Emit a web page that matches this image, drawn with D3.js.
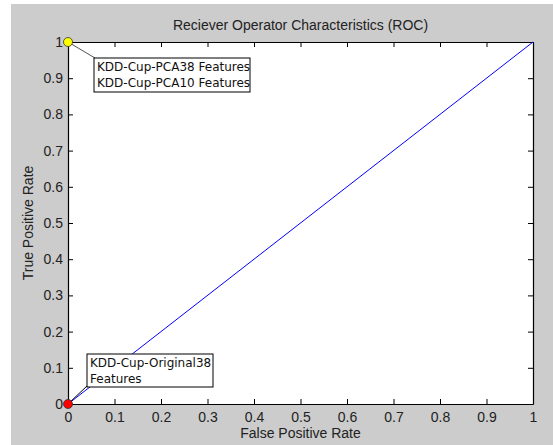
<!DOCTYPE html>
<html>
<head>
<meta charset="utf-8">
<script src="https://cdn.jsdelivr.net/npm/d3@7"></script>
<style>
body { margin: 0; background: #fff; }
text { font-family: Arial, "Liberation Sans", sans-serif; }
</style>
</head>
<body>
<script>
// ROC curve points (false positive rate, true positive rate)
var rocFpr = [0, 1];
var rocTpr = [0, 1];

// labelled operating points
var pointNames = ['KDD-Cup-PCA38 Features\nKDD-Cup-PCA10 Features', 'KDD-Cup-Original38\nFeatures'];
var pointFpr = [0, 0];
var pointTpr = [1, 0];
var pointColors = ['#ffff00', '#ff0000'];

var tickValues = [0, 0.1, 0.2, 0.3, 0.4, 0.5, 0.6, 0.7, 0.8, 0.9, 1];

var width = 553, height = 445;
var margin = {left: 68, top: 42, right: 20, bottom: 41};

var svg = d3.select('body')
	.append('svg')
	.attr('width', width)
	.attr('height', height);

// figure background
svg.append('rect')
	.attr('x', 11)
	.attr('y', 4)
	.attr('width', width - 11)
	.attr('height', height - 4)
	.attr('fill', '#cccccc');

var x = d3.scaleLinear()
	.domain([0, 1])
	.range([margin.left, width - margin.right]);

var y = d3.scaleLinear()
	.domain([0, 1])
	.range([height - margin.bottom, margin.top]);

svg.append('rect')
	.attr('x', x(0))
	.attr('y', y(1))
	.attr('width', x(1) - x(0))
	.attr('height', y(0) - y(1))
	.attr('fill', '#fff');

var xAxis = svg.append('g')
	.attr('transform', 'translate(0,' + y(0) + ')')
	.call(d3.axisBottom(x).tickValues(tickValues).tickSizeInner(-5).tickSizeOuter(0).tickPadding(8).tickFormat(d3.format('')));
var xTop = svg.append('g')
	.attr('transform', 'translate(0,' + y(1) + ')')
	.call(d3.axisTop(x).tickValues(tickValues).tickSizeInner(-5).tickSizeOuter(0).tickFormat(''));
var yAxis = svg.append('g')
	.attr('transform', 'translate(' + x(0) + ',0)')
	.call(d3.axisLeft(y).tickValues(tickValues).tickSizeInner(-5).tickSizeOuter(0).tickPadding(5).tickFormat(d3.format('')));
var yRight = svg.append('g')
	.attr('transform', 'translate(' + x(1) + ',0)')
	.call(d3.axisRight(y).tickValues(tickValues).tickSizeInner(-5).tickSizeOuter(0).tickFormat(''));

[xAxis, xTop, yAxis, yRight].forEach(function(g) {
	g.selectAll('.domain').attr('stroke', '#000').attr('stroke-width', 1.2);
	g.selectAll('.tick line').attr('stroke', '#000');
	g.selectAll('.tick text').attr('font-size', 14).attr('fill', '#222');
});
xAxis.selectAll('.tick text').attr('dy', '0.71em');

// ROC line
var line = d3.line()
	.x(function(d) { return x(d[0]); })
	.y(function(d) { return y(d[1]); });

svg.append('path')
	.datum(d3.zip(rocFpr, rocTpr))
	.attr('d', line)
	.attr('fill', 'none')
	.attr('stroke', '#0000ff')
	.attr('stroke-width', 1);

// annotation boxes
var boxes = [
	{dx: 26, dy: 16, w: 156, h: 34, lead: '#555'},
	{dx: 19, dy: -50, w: 126, h: 33, lead: '#000'}
];

pointNames.forEach(function(name, i) {
	var px = x(pointFpr[i]), py = y(pointTpr[i]);
	var b = boxes[i];
	var bx = px + b.dx, by = py + b.dy;
	var cx = bx + 1;
	var cy = i === 0 ? by : by + b.h - 2;
	svg.append('line')
		.attr('x1', px).attr('y1', py)
		.attr('x2', cx).attr('y2', cy)
		.attr('stroke', b.lead)
		.attr('stroke-width', 1);
	svg.append('rect')
		.attr('x', bx).attr('y', by)
		.attr('width', b.w).attr('height', b.h)
		.attr('fill', '#fff')
		.attr('stroke', '#000')
		.attr('stroke-width', 1);
	svg.append('text')
		.attr('x', bx + 3)
		.attr('y', by + 13)
		.attr('font-size', 12)
		.style('font-family', '"DejaVu Sans", sans-serif')
		.attr('fill', '#111')
		.selectAll('tspan')
		.data(name.split('\n'))
		.enter().append('tspan')
		.attr('x', bx + 3)
		.attr('dy', function(d, j) { return j === 0 ? 0 : 16; })
		.text(function(d) { return d; });
});

// markers
svg.selectAll('circle.pt')
	.data(d3.range(pointNames.length))
	.enter().append('circle')
	.attr('class', 'pt')
	.attr('cx', function(i) { return x(pointFpr[i]); })
	.attr('cy', function(i) { return y(pointTpr[i]); })
	.attr('r', 4.5)
	.attr('fill', function(i) { return pointColors[i]; })
	.attr('stroke', '#333')
	.attr('stroke-width', 0.8);

svg.append('text')
	.attr('x', (x(0) + x(1)) / 2)
	.attr('y', 30)
	.attr('text-anchor', 'middle')
	.attr('font-size', 14)
	.attr('fill', '#222')
	.text('Reciever Operator Characteristics (ROC)');

svg.append('text')
	.attr('x', (x(0) + x(1)) / 2)
	.attr('y', 438)
	.attr('text-anchor', 'middle')
	.attr('font-size', 14)
	.attr('fill', '#222')
	.text('False Positive Rate');

svg.append('text')
	.attr('transform', 'translate(33,' + (y(0) + y(1)) / 2 + ') rotate(-90)')
	.attr('text-anchor', 'middle')
	.attr('font-size', 14)
	.attr('fill', '#222')
	.text('True Positive Rate');
</script>
</body>
</html>
